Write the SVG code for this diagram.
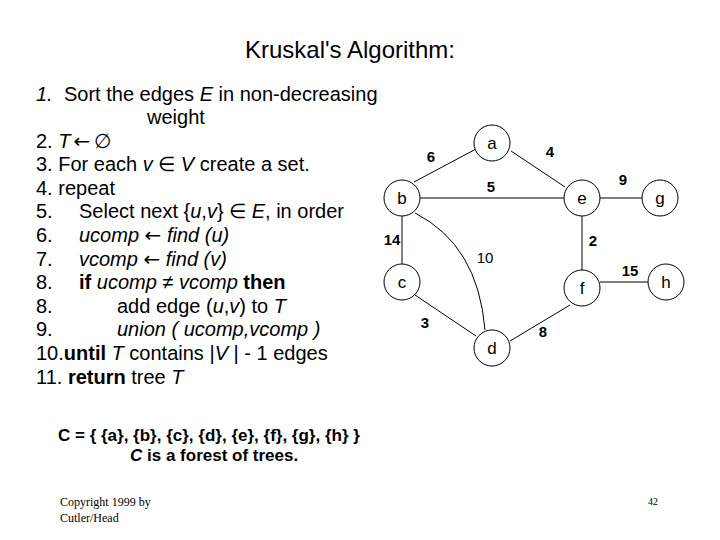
<svg xmlns="http://www.w3.org/2000/svg" width="720" height="540" viewBox="0 0 720 540">
<style>
text{font-family:"Liberation Sans",Arial,sans-serif;fill:#000}
.t{font-size:24px}
.b{font-size:20px}
.i{font-style:italic}
.w{font-weight:bold}
.ar{font-family:"DejaVu Sans",sans-serif;font-style:normal;font-weight:normal;font-size:20px}
.node circle{fill:#fff;stroke:#000;stroke-width:1}
.node text{font-size:17px;text-anchor:middle}
.lbl{font-size:15px;font-weight:bold;text-anchor:middle}
.edges line,.edges path{stroke:#000;stroke-width:1;fill:none}
.c{font-size:17px;font-weight:bold}
.cp{font-family:"Liberation Serif","Times New Roman",serif;font-size:12px}
</style>
<rect width="720" height="540" fill="#fff"/>
<text class="t" x="350" y="58" text-anchor="middle">Kruskal's Algorithm:</text>
<g id="algorithm" class="b">
<text x="36" y="101"><tspan class="i">1.</tspan><tspan x="64">Sort the edges </tspan><tspan class="i">E</tspan> in non-decreasing</text>
<text x="147" y="124">weight</text>
<text x="36" y="148">2. <tspan class="i">T</tspan><tspan class="ar" dx="3">←</tspan><tspan dx="4">∅</tspan></text>
<text x="36" y="171">3. For each <tspan class="i">v</tspan> ∈ <tspan class="i">V</tspan> create a set.</text>
<text x="36" y="195">4. repeat</text>
<text x="36" y="218">5.<tspan x="79">Select next {</tspan><tspan class="i">u</tspan>,<tspan class="i">v</tspan>} ∈ <tspan class="i">E</tspan>, in order</text>
<text x="36" y="242">6.<tspan x="79" class="i">ucomp </tspan><tspan class="ar">←</tspan><tspan class="i"> find (u)</tspan></text>
<text x="36" y="266">7.<tspan x="79" class="i">vcomp </tspan><tspan class="ar">←</tspan><tspan class="i"> find (v)</tspan></text>
<text x="36" y="289">8.<tspan x="79" class="w">if </tspan><tspan class="i">ucomp ≠ vcomp</tspan><tspan class="w"> then</tspan></text>
<text x="36" y="313">8.<tspan x="117">add edge (</tspan><tspan class="i">u</tspan>,<tspan class="i">v</tspan>) to <tspan class="i">T</tspan></text>
<text x="36" y="336">9.<tspan x="117" class="i">union ( ucomp,vcomp )</tspan></text>
<text x="36" y="360">10.<tspan class="w">until</tspan> <tspan class="i">T</tspan> contains |<tspan class="i">V</tspan> | - 1 edges</text>
<text x="36" y="384">11. <tspan class="w">return</tspan> tree <tspan class="i">T</tspan></text>
</g>
<g id="connectors" class="edges">
<line x1="414" y1="182" x2="476" y2="149"/>
<line x1="511" y1="151" x2="565" y2="187"/>
<line x1="420" y1="198" x2="564" y2="198"/>
<line x1="600" y1="198" x2="642" y2="198"/>
<line x1="402" y1="216" x2="402" y2="264"/>
<line x1="582" y1="216" x2="582" y2="270"/>
<path d="M415,213 Q478,245 485,330"/>
<line x1="415" y1="295" x2="476" y2="336"/>
<line x1="510" y1="341" x2="570" y2="305"/>
<line x1="600" y1="282" x2="648" y2="282"/>
</g>
<g id="edge-labels">
<text class="lbl" x="431" y="162">6</text>
<text class="lbl" x="550" y="157">4</text>
<text class="lbl" x="491" y="192">5</text>
<text class="lbl" x="623" y="185">9</text>
<text class="lbl" x="392" y="245">14</text>
<text class="lbl" x="593" y="246">2</text>
<text class="lbl" x="485" y="263" style="font-weight:normal">10</text>
<text class="lbl" x="630" y="276">15</text>
<text class="lbl" x="425" y="328">3</text>
<text class="lbl" x="543" y="337">8</text>
</g>
<g id="node-a" class="node"><circle cx="492" cy="143" r="18"/><text x="492" y="149">a</text></g>
<g id="node-b" class="node"><circle cx="402" cy="198" r="18"/><text x="402" y="204">b</text></g>
<g id="node-e" class="node"><circle cx="582" cy="198" r="18"/><text x="582" y="204">e</text></g>
<g id="node-g" class="node"><circle cx="660" cy="198" r="18"/><text x="660" y="204">g</text></g>
<g id="node-c" class="node"><circle cx="402" cy="282" r="18"/><text x="402" y="288">c</text></g>
<g id="node-f" class="node"><circle cx="582" cy="288" r="18"/><text x="582" y="294">f</text></g>
<g id="node-h" class="node"><circle cx="666" cy="282" r="18"/><text x="666" y="288">h</text></g>
<g id="node-d" class="node"><circle cx="492" cy="348" r="18"/><text x="492" y="354">d</text></g>
<text class="c" x="58" y="441">C = { {a}, {b}, {c}, {d}, {e}, {f}, {g}, {h} }</text>
<text class="c" x="130" y="461"><tspan class="i">C</tspan> is a forest of trees.</text>
<text class="cp" x="60" y="506">Copyright 1999 by</text>
<text class="cp" x="60" y="522">Cutler/Head</text>
<text class="cp" x="653" y="505" style="font-size:10px" text-anchor="middle">42</text>
</svg>
